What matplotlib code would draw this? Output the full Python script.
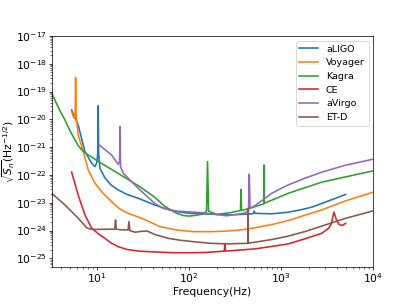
import numpy as np
import matplotlib
matplotlib.use("Agg")
import matplotlib.pyplot as plt

# detector noise curves, frequency (Hz) and log10 of the ASD (Hz^-1/2)
f_aligo = [5.27, 6.2, 7.35, 8.7, 9.45, 9.9, 10.15, 10.25, 10.35, 10.7, 12.1, 14, 16.9, 21, 27.9,
           42, 60, 73, 100, 142, 277, 480, 500, 509, 518, 787, 1190, 1600, 2140, 3000, 5000]
l_aligo = [-19.66, -20.20, -21.16, -21.58, -21.70, -21.55, -21.2, -19.51, -21.2, -21.76, -22.10,
           -22.35, -22.54, -22.70, -22.84, -23.08, -23.25, -23.32, -23.38, -23.40, -23.44, -23.40,
           -23.38, -23.30, -23.38, -23.40, -23.34, -23.26, -23.16, -22.98, -22.70]

f_voyager = [5.27, 5.6, 5.75, 5.82, 5.9, 6.2, 7.05, 7.98, 9.45, 11.5, 14.3, 17.5, 21.7, 31.6, 48,
             73, 110, 168, 255, 380, 518, 800, 1190, 1800, 2750, 5000, 10000]
l_voyager = [-19.72, -19.96, -19.9, -18.49, -19.9, -20.56, -21.16, -21.82, -22.30, -22.65, -22.96,
             -23.22, -23.38, -23.58, -23.86, -23.98, -24.04, -24.04, -24.02, -23.97, -23.90, -23.78,
             -23.64, -23.45, -23.26, -22.93, -22.62]

f_kagra = [3.2, 3.6, 4.0, 4.46, 5.0, 5.48, 6.22, 6.8, 7.35, 10.7, 14.3, 29, 42, 52, 60, 73, 86,
           100, 120, 142, 154, 158, 162, 198, 277, 360, 365, 370, 455, 645, 649, 653, 1190, 2750,
           10000]
l_kagra = [-19.05, -19.42, -19.74, -20.02, -20.38, -20.62, -20.95, -21.10, -21.20, -21.55, -21.80,
           -22.42, -22.80, -23.08, -23.22, -23.38, -23.46, -23.48, -23.45, -23.40, -23.30, -21.52,
           -23.30, -23.42, -23.36, -23.28, -22.52, -23.28, -23.20, -23.04, -21.64, -23.02, -22.66,
           -22.26, -21.85]

f_ce = [5.27, 6.2, 7.35, 8.7, 10.7, 12.1, 14, 16.9, 21, 27.9, 42, 70, 100, 150, 200, 240, 244,
        248, 300, 518, 800, 1190, 1800, 2750, 3270, 3500, 3730, 3870, 4000, 4250, 4600, 5000]
l_ce = [-21.90, -22.72, -23.44, -23.92, -24.16, -24.28, -24.44, -24.58, -24.68, -24.74, -24.77,
        -24.80, -24.80, -24.79, -24.76, -24.74, -24.46, -24.74, -24.72, -24.66, -24.57, -24.48,
        -24.30, -24.10, -23.92, -23.75, -23.34, -23.50, -23.64, -23.78, -23.82, -23.74]

f_avirgo = [10.5, 14.3, 16.9, 17.5, 17.7, 17.9, 19.2, 27.9, 42, 52, 73, 142, 255, 387, 440, 449,
            458, 518, 600, 787, 1000, 1190, 1800, 2750, 5000, 10000]
l_avirgo = [-20.92, -21.28, -21.62, -21.5, -20.26, -21.7, -21.94, -22.48, -23.02, -23.20, -23.30,
            -23.36, -23.47, -23.38, -23.30, -21.97, -23.20, -23.10, -22.95, -22.66, -22.48, -22.36,
            -22.12, -21.90, -21.65, -21.43]

f_etd = [3.2, 4.46, 6.22, 7.67, 8.5, 9.45, 14.3, 15.5, 15.8, 16.1, 17.5, 21.6, 22.1, 22.6, 25.7,
         30, 35, 42, 59, 80, 110, 170, 255, 430, 436, 437, 438, 445, 518, 800, 1190, 1800, 2750,
         5000, 10000]
l_etd = [-22.66, -23.08, -23.56, -23.90, -23.95, -23.96, -23.95, -23.95, -23.62, -23.95, -23.97,
         -23.98, -23.68, -24.00, -24.06, -24.03, -24.02, -24.14, -24.28, -24.35, -24.40, -24.46,
         -24.48, -24.46, -24.46, -23.20, -24.46, -24.45, -24.42, -24.32, -24.20, -24.04, -23.84,
         -23.56, -23.29]

labels = ['aLIGO', 'Voyager', 'Kagra', 'CE', 'aVirgo', 'ET-D']
freqs = [f_aligo, f_voyager, f_kagra, f_ce, f_avirgo, f_etd]
logs = [l_aligo, l_voyager, l_kagra, l_ce, l_avirgo, l_etd]

plt.rcParams['font.size'] = 12

fig = plt.figure(figsize=(6.4, 4.704), dpi=64.84)
ax = fig.add_axes([0.1246, 0.1256, 0.775, 0.7564])

for f, l, lab in zip(freqs, logs, labels):
    ax.loglog(f, 10.0 ** np.array(l), label=lab, lw=1.8)

ax.set_xlim(3.2, 1e4)
ax.set_ylim(5e-26, 1e-17)
ax.set_yticks([10.0 ** k for k in range(-25, -16)])
ax.tick_params(axis='both', which='major', pad=2, length=3)
ax.tick_params(axis='both', which='minor', length=1.8)
ax.set_xlabel('Frequency(Hz)', labelpad=2)
ax.set_ylabel(r'$\sqrt{S_n}$(Hz$^{-1/2}$)')
ax.yaxis.set_label_coords(-0.108, 0.5)
ax.legend(loc='upper right', fontsize=10.5)

fig.savefig('out.png', dpi=64.84)
